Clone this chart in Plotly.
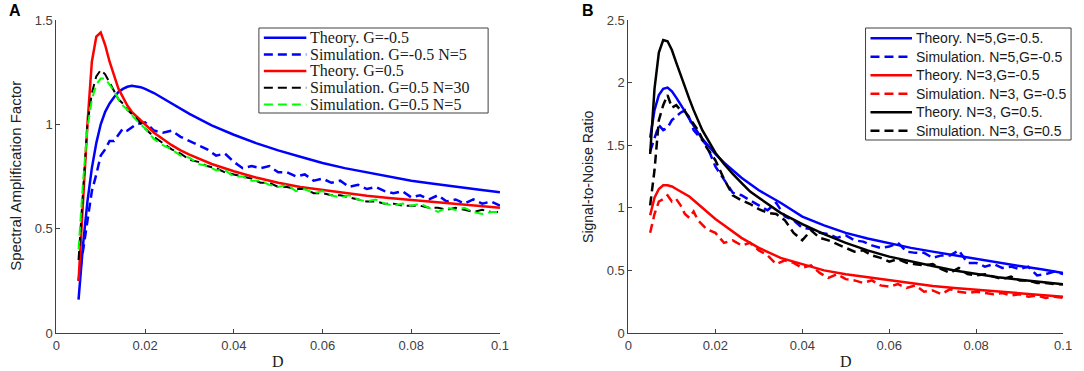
import plotly.graph_objects as go

# ---------------- data ----------------
theory_D = [0.005, 0.006, 0.007, 0.008, 0.009, 0.010, 0.011, 0.012, 0.013, 0.014,
            0.015, 0.016, 0.017, 0.018, 0.019, 0.020, 0.022, 0.024, 0.026, 0.028,
            0.030, 0.035, 0.040, 0.045, 0.050, 0.055, 0.060, 0.065, 0.070, 0.075,
            0.080, 0.085, 0.090, 0.095, 0.100]

sim_D = [0.005, 0.006, 0.007, 0.008, 0.009, 0.010, 0.011, 0.012, 0.013, 0.014,
         0.015, 0.016, 0.018, 0.020, 0.022, 0.024, 0.026, 0.028, 0.030, 0.032,
         0.034, 0.036, 0.038, 0.040, 0.042, 0.044, 0.046, 0.048, 0.050, 0.052,
         0.054, 0.056, 0.058, 0.060, 0.062, 0.064, 0.066, 0.068, 0.070, 0.072,
         0.074, 0.076, 0.078, 0.080, 0.082, 0.084, 0.086, 0.088, 0.090, 0.092,
         0.094, 0.096, 0.098, 0.100]

# Panel A: spectral amplification factor
a_theory_gm05 = [0.16, 0.42, 0.63, 0.79, 0.91, 1.00, 1.06, 1.10, 1.13, 1.155,
                 1.17, 1.18, 1.185, 1.183, 1.178, 1.17, 1.15, 1.125, 1.10, 1.075,
                 1.05, 0.995, 0.95, 0.91, 0.875, 0.845, 0.815, 0.79, 0.77, 0.75,
                 0.73, 0.715, 0.70, 0.688, 0.675]
a_theory_gp05 = [0.25, 0.62, 1.00, 1.30, 1.42, 1.44, 1.38, 1.30, 1.23, 1.17,
                 1.13, 1.09, 1.06, 1.04, 1.02, 1.00, 0.96, 0.93, 0.90, 0.875,
                 0.855, 0.81, 0.775, 0.745, 0.72, 0.70, 0.685, 0.67, 0.658, 0.647,
                 0.637, 0.627, 0.618, 0.61, 0.60]
a_sim_gm05_n5 = [0.25, 0.40, 0.55, 0.68, 0.76, 0.85, 0.88, 0.92, 0.92, 0.95,
                 0.98, 0.97, 1.00, 1.01, 0.97, 0.96, 0.97, 0.94, 0.92, 0.90,
                 0.88, 0.85, 0.86, 0.82, 0.79, 0.80, 0.79, 0.80, 0.77, 0.77,
                 0.75, 0.76, 0.73, 0.74, 0.72, 0.73, 0.70, 0.71, 0.69, 0.70,
                 0.68, 0.67, 0.68, 0.65, 0.66, 0.64, 0.66, 0.63, 0.64, 0.62,
                 0.64, 0.62, 0.63, 0.61]
a_sim_gp05_n30 = [0.35, 0.70, 1.00, 1.15, 1.23, 1.26, 1.24, 1.20, 1.16, 1.12,
                  1.10, 1.07, 1.03, 0.98, 0.94, 0.91, 0.88, 0.86, 0.83, 0.82,
                  0.80, 0.79, 0.77, 0.76, 0.75, 0.74, 0.72, 0.72, 0.70, 0.70,
                  0.69, 0.69, 0.67, 0.67, 0.66, 0.66, 0.65, 0.64, 0.63, 0.63,
                  0.62, 0.62, 0.61, 0.61, 0.61, 0.60, 0.60, 0.59, 0.60, 0.59,
                  0.58, 0.59, 0.58, 0.58]
a_sim_gp05_n5 = [0.40, 0.72, 0.98, 1.12, 1.19, 1.22, 1.22, 1.19, 1.16, 1.12,
                 1.09, 1.07, 1.02, 0.98, 0.93, 0.90, 0.88, 0.85, 0.84, 0.81,
                 0.80, 0.78, 0.78, 0.75, 0.75, 0.73, 0.73, 0.71, 0.70, 0.71,
                 0.68, 0.69, 0.67, 0.68, 0.66, 0.65, 0.66, 0.64, 0.63, 0.64,
                 0.62, 0.61, 0.62, 0.61, 0.62, 0.60, 0.58, 0.60, 0.59, 0.60,
                 0.58, 0.57, 0.58, 0.58]

# Panel B: signal-to-noise ratio
b_theory_n5_gm05 = [1.56, 1.78, 1.90, 1.95, 1.96, 1.93, 1.88, 1.83, 1.77, 1.71,
                    1.65, 1.60, 1.55, 1.51, 1.47, 1.43, 1.36, 1.30, 1.24, 1.19,
                    1.14, 1.04, 0.93, 0.86, 0.80, 0.755, 0.715, 0.68, 0.65, 0.62,
                    0.59, 0.56, 0.535, 0.51, 0.48]
b_theory_n3_gm05 = [0.94, 1.08, 1.15, 1.18, 1.18, 1.17, 1.15, 1.13, 1.11, 1.09,
                    1.06, 1.03, 1.00, 0.97, 0.94, 0.91, 0.86, 0.81, 0.76, 0.72,
                    0.68, 0.60, 0.55, 0.50, 0.47, 0.445, 0.42, 0.40, 0.375, 0.36,
                    0.345, 0.33, 0.315, 0.30, 0.29]
b_theory_n3_gp05 = [1.43, 1.95, 2.24, 2.34, 2.33, 2.26, 2.16, 2.06, 1.96, 1.87,
                    1.78, 1.70, 1.62, 1.56, 1.50, 1.44, 1.35, 1.27, 1.20, 1.13,
                    1.08, 0.96, 0.87, 0.79, 0.72, 0.66, 0.61, 0.57, 0.535, 0.50,
                    0.47, 0.445, 0.425, 0.405, 0.39]
b_sim_n5_gm05 = [1.45, 1.55, 1.66, 1.62, 1.64, 1.70, 1.73, 1.76, 1.78, 1.72,
                 1.62, 1.58, 1.50, 1.33, 1.22, 1.12, 1.10, 1.06, 1.02, 0.98,
                 1.04, 0.93, 0.90, 0.84, 0.83, 0.80, 0.79, 0.76, 0.78, 0.74,
                 0.73, 0.70, 0.68, 0.69, 0.72, 0.65, 0.64, 0.64, 0.60, 0.62,
                 0.62, 0.66, 0.56, 0.56, 0.53, 0.55, 0.52, 0.53, 0.51, 0.53,
                 0.46, 0.47, 0.49, 0.47]
b_sim_n3_gm05 = [0.80, 0.95, 1.05, 1.07, 1.10, 1.05, 1.07, 1.02, 0.95, 0.92,
                 0.97, 0.90, 0.83, 0.80, 0.72, 0.74, 0.70, 0.72, 0.66, 0.62,
                 0.55, 0.58, 0.56, 0.52, 0.54, 0.48, 0.44, 0.47, 0.43, 0.42,
                 0.40, 0.42, 0.38, 0.37, 0.39, 0.36, 0.38, 0.33, 0.34, 0.31,
                 0.35, 0.33, 0.32, 0.33, 0.32, 0.31, 0.32, 0.30, 0.31, 0.29,
                 0.30, 0.28, 0.29, 0.28]
b_sim_n3_gp05 = [1.02, 1.30, 1.70, 1.82, 1.90, 1.80, 1.82, 1.78, 1.77, 1.72,
                 1.66, 1.62, 1.48, 1.38, 1.23, 1.10, 1.06, 1.03, 0.99, 0.96,
                 0.95, 0.90, 0.80, 0.74, 0.82, 0.76, 0.74, 0.71, 0.68, 0.65,
                 0.66, 0.62, 0.60, 0.57, 0.59, 0.56, 0.55, 0.54, 0.55, 0.51,
                 0.48, 0.52, 0.47, 0.46, 0.47, 0.45, 0.43, 0.45, 0.42, 0.42,
                 0.40, 0.40, 0.39, 0.39]

x_ticks = [0, 0.02, 0.04, 0.06, 0.08, 0.1]
x_ticklabels = ["0", "0.02", "0.04", "0.06", "0.08", "0.1"]
a_yticks = [0, 0.5, 1, 1.5]
a_yticklabels = ["0", "0.5", "1", "1.5"]
b_yticks = [0, 0.5, 1, 1.5, 2, 2.5]
b_yticklabels = ["0", "0.5", "1", "1.5", "2", "2.5"]

# ---------------- figure ----------------
W, H = 1084, 371
top, bottom = 20, 38
ph = H - top - bottom
DASH = "9px,5px"


def px(pixel_x):
    return pixel_x / W


def py(pixel_y):
    return (H - bottom - pixel_y) / ph


fig = go.Figure()

series_a = [
    (theory_D, a_theory_gm05, "Theory. G=-0.5", "#0000FF", "solid", 2.5),
    (sim_D, a_sim_gm05_n5, "Simulation. G=-0.5 N=5", "#0000FF", DASH, 2.5),
    (theory_D, a_theory_gp05, "Theory. G=0.5", "#FF0000", "solid", 2.5),
    (sim_D, a_sim_gp05_n30, "Simulation. G=0.5 N=30", "#000000", DASH, 2),
    (sim_D, a_sim_gp05_n5, "Simulation. G=0.5 N=5", "#00FF00", DASH, 2),
]
series_b = [
    (theory_D, b_theory_n5_gm05, "Theory. N=5,G=-0.5.", "#0000FF", "solid", 2.5),
    (sim_D, b_sim_n5_gm05, "Simulation. N=5,G=-0.5", "#0000FF", DASH, 2.5),
    (theory_D, b_theory_n3_gm05, "Theory. N=3,G=-0.5", "#FF0000", "solid", 2.5),
    (sim_D, b_sim_n3_gm05, "Simulation. N=3, G=-0.5", "#FF0000", DASH, 2.5),
    (theory_D, b_theory_n3_gp05, "Theory. N=3, G=0.5.", "#000000", "solid", 2.5),
    (sim_D, b_sim_n3_gp05, "Simulation. N=3, G=0.5", "#000000", DASH, 2.5),
]

for (x, y, name, color, dash, width) in series_a:
    fig.add_trace(go.Scatter(x=x, y=y, name=name, mode="lines", showlegend=False,
                             line=dict(color=color, width=width, dash=dash),
                             xaxis="x", yaxis="y"))
for (x, y, name, color, dash, width) in series_b:
    fig.add_trace(go.Scatter(x=x, y=y, name=name, mode="lines", showlegend=False,
                             line=dict(color=color, width=width, dash=dash),
                             xaxis="x2", yaxis="y2"))

axis_col = "#404040"
tickfont = dict(family="Arial, Liberation Sans, sans-serif", size=13, color="#404040")


def xaxis(domain, anchor):
    return dict(domain=domain, anchor=anchor, range=[0, 0.1], tickvals=x_ticks,
                ticktext=x_ticklabels, showline=True, linecolor=axis_col, linewidth=1,
                ticks="inside", ticklen=4, tickcolor=axis_col, showgrid=False,
                zeroline=False, tickfont=tickfont, fixedrange=True)


def yaxis(rng, tv, tt, anchor):
    return dict(domain=[0, 1], anchor=anchor, range=rng, tickvals=tv, ticktext=tt,
                showline=True, linecolor=axis_col, linewidth=1, ticks="inside",
                ticklen=4, tickcolor=axis_col, showgrid=False, zeroline=False,
                tickfont=tickfont, fixedrange=True)


fig.update_layout(
    width=W, height=H,
    margin=dict(l=0, r=0, t=top, b=bottom),
    plot_bgcolor="white", paper_bgcolor="white",
    showlegend=False,
    xaxis=xaxis([px(53), px(502)], "y"),
    yaxis=yaxis([0, 1.5], a_yticks, a_yticklabels, "x"),
    xaxis2=xaxis([px(632), px(1072)], "y2"),
    yaxis2=yaxis([0, 2.5], b_yticks, b_yticklabels, "x2"),
)


# ---------- manual legends (MATLAB-style compact boxes) ----------
def legend_box(series, box, line_x0, line_x1, text_x, y_first, y_step, font):
    x0, y0, x1, y1 = box
    fig.add_shape(type="rect", xref="paper", yref="paper",
                  x0=px(x0), x1=px(x1), y0=py(y1), y1=py(y0),
                  line=dict(color="#404040", width=1), fillcolor="white", layer="above")
    for i, (_, _, name, color, dash, width) in enumerate(series):
        yc = y_first + i * y_step
        fig.add_shape(type="line", xref="paper", yref="paper",
                      x0=px(line_x0), x1=px(line_x1), y0=py(yc), y1=py(yc),
                      line=dict(color=color, width=width, dash=dash), layer="above")
        fig.add_annotation(text=name, xref="paper", yref="paper",
                           x=px(text_x), y=py(yc), xanchor="left", yanchor="middle",
                           showarrow=False, font=font, borderpad=0)


serif_font = dict(family="Liberation Serif, Times New Roman, serif", size=16, color="#1a1a1a")
sans_font = dict(family="Arial, Liberation Sans, sans-serif", size=14, color="#1a1a1a")

legend_box(series_a, (258, 28, 490, 113), 263, 306, 309, 37.7, 16.7, serif_font)
legend_box(series_b, (872, 28, 1080, 140), 877, 919, 922, 38.3, 18.5, sans_font)

# ---------- axis titles and panel labels ----------
fig.add_annotation(text="Spectral Amplification Factor", xref="paper", yref="paper",
                   x=px(11), y=py(176), textangle=-90, showarrow=False,
                   font=dict(family="Arial, Liberation Sans, sans-serif", size=15, color="#202020"),
                   xanchor="center", yanchor="middle")
fig.add_annotation(text="Signal-to-Noise Ratio", xref="paper", yref="paper",
                   x=px(591), y=py(177), textangle=-90, showarrow=False,
                   font=dict(family="Arial, Liberation Sans, sans-serif", size=14, color="#202020"),
                   xanchor="center", yanchor="middle")
d_font = dict(family="Liberation Serif, Times New Roman, serif", size=16, color="#202020")
fig.add_annotation(text="D", xref="paper", yref="paper", x=px(277.5), y=py(361),
                   showarrow=False, font=d_font, xanchor="center", yanchor="middle", borderpad=0)
fig.add_annotation(text="D", xref="paper", yref="paper", x=px(852), y=py(361),
                   showarrow=False, font=d_font, xanchor="center", yanchor="middle", borderpad=0)
lab_font = dict(family="Arial, Liberation Sans, sans-serif", size=16, color="black")
fig.add_annotation(text="<b>A</b>", xref="paper", yref="paper", x=px(11), y=py(11),
                   showarrow=False, font=lab_font, xanchor="center", yanchor="middle")
fig.add_annotation(text="<b>B</b>", xref="paper", yref="paper", x=px(591), y=py(11),
                   showarrow=False, font=lab_font, xanchor="center", yanchor="middle")

fig.write_html("out.html",
               config={"displayModeBar": False},
               post_script="document.body.style.margin='0px';"
                           "document.body.style.overflow='hidden';")
